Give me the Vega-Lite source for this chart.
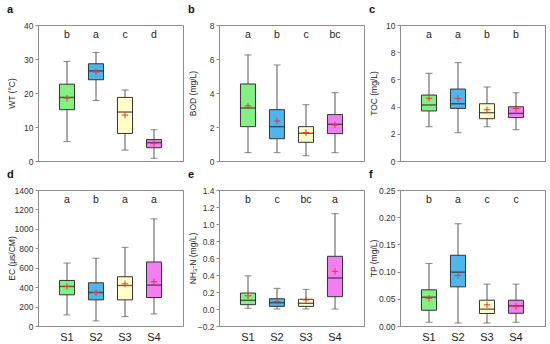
{
  "$schema": "https://vega.github.io/schema/vega-lite/v6.json",
  "padding": {"left": 6, "top": 3, "right": 2, "bottom": 2},
  "background": "white",
  "datasets": {
    "boxes": [
      {"panel": "a", "site": "S1", "min": 5.7, "q1": 15.1, "median": 18.7, "q3": 22.6, "max": 29.3, "mean": 18.5, "letter": "b"},
      {"panel": "a", "site": "S2", "min": 17.8, "q1": 23.9, "median": 26.5, "q3": 28.6, "max": 31.9, "mean": 26.2, "letter": "a"},
      {"panel": "a", "site": "S3", "min": 3.2, "q1": 8.1, "median": 14.4, "q3": 18.7, "max": 20.9, "mean": 13.5, "letter": "c"},
      {"panel": "a", "site": "S4", "min": 0.8, "q1": 3.9, "median": 5.4, "q3": 6.3, "max": 9.2, "mean": 5.2, "letter": "d"},
      {"panel": "b", "site": "S1", "min": 0.49, "q1": 2.02, "median": 3.12, "q3": 4.53, "max": 6.24, "mean": 3.24, "letter": "a"},
      {"panel": "b", "site": "S2", "min": 0.49, "q1": 1.31, "median": 2.02, "q3": 3.02, "max": 5.65, "mean": 2.35, "letter": "b"},
      {"panel": "b", "site": "S3", "min": 0.31, "q1": 1.1, "median": 1.63, "q3": 2.02, "max": 3.31, "mean": 1.67, "letter": "c"},
      {"panel": "b", "site": "S4", "min": 0.49, "q1": 1.61, "median": 2.16, "q3": 2.73, "max": 4.02, "mean": 2.12, "letter": "bc"},
      {"panel": "c", "site": "S1", "min": 2.52, "q1": 3.68, "median": 4.12, "q3": 4.85, "max": 6.45, "mean": 4.61, "letter": "a"},
      {"panel": "c", "site": "S2", "min": 2.08, "q1": 3.87, "median": 4.21, "q3": 5.29, "max": 7.23, "mean": 4.6, "letter": "a"},
      {"panel": "c", "site": "S3", "min": 2.52, "q1": 3.11, "median": 3.55, "q3": 4.21, "max": 5.44, "mean": 3.77, "letter": "b"},
      {"panel": "c", "site": "S4", "min": 2.3, "q1": 3.19, "median": 3.5, "q3": 3.99, "max": 5.02, "mean": 3.85, "letter": "b"},
      {"panel": "d", "site": "S1", "min": 114, "q1": 321, "median": 407, "q3": 469, "max": 648, "mean": 407, "letter": "a"},
      {"panel": "d", "site": "S2", "min": 52, "q1": 269, "median": 345, "q3": 445, "max": 697, "mean": 345, "letter": "b"},
      {"panel": "d", "site": "S3", "min": 97, "q1": 269, "median": 417, "q3": 507, "max": 810, "mean": 434, "letter": "a"},
      {"panel": "d", "site": "S4", "min": 124, "q1": 293, "median": 421, "q3": 659, "max": 1103, "mean": 455, "letter": "a"},
      {"panel": "e", "site": "S1", "min": 0.008, "q1": 0.051, "median": 0.102, "q3": 0.188, "max": 0.39, "mean": 0.155, "letter": "b"},
      {"panel": "e", "site": "S2", "min": 0.0, "q1": 0.031, "median": 0.074, "q3": 0.121, "max": 0.243, "mean": 0.09, "letter": "c"},
      {"panel": "e", "site": "S3", "min": 0.0, "q1": 0.031, "median": 0.067, "q3": 0.114, "max": 0.231, "mean": 0.106, "letter": "bc"},
      {"panel": "e", "site": "S4", "min": 0.0, "q1": 0.145, "median": 0.365, "q3": 0.62, "max": 1.122, "mean": 0.443, "letter": "a"},
      {"panel": "f", "site": "S1", "min": 0.0068, "q1": 0.029, "median": 0.053, "q3": 0.0665, "max": 0.115, "mean": 0.051, "letter": "b"},
      {"panel": "f", "site": "S2", "min": 0.0055, "q1": 0.072, "median": 0.099, "q3": 0.13, "max": 0.188, "mean": 0.093, "letter": "a"},
      {"panel": "f", "site": "S3", "min": 0.0055, "q1": 0.023, "median": 0.031, "q3": 0.0474, "max": 0.077, "mean": 0.0388, "letter": "c"},
      {"panel": "f", "site": "S4", "min": 0.0068, "q1": 0.0234, "median": 0.037, "q3": 0.0474, "max": 0.077, "mean": 0.0357, "letter": "c"}
    ]
  },
  "columns": 3,
  "bounds": "flush",
  "spacing": {"row": 29, "column": 36},
  "concat": [
    {
      "width": 145, "height": 136,
      "title": {"text": "a"},
      "data": {"name": "boxes"},
      "transform": [{"filter": "datum.panel === 'a'"}],
      "encoding": {"x": {"field": "site", "type": "nominal", "scale": {"paddingInner": 0, "paddingOuter": 0.5}, "axis": {"labels": false, "ticks": false, "title": null}}},
      "layer": [
        {"mark": {"type": "rule", "color": "#555", "strokeWidth": 1}, "encoding": {"y": {"field": "min", "type": "quantitative", "scale": {"domain": [0, 40], "nice": false, "zero": false}, "axis": {"values": [0, 10, 20, 30, 40], "tickCount": 50, "format": "d", "labelOverlap": false, "title": "WT (°C)"}}, "y2": {"field": "max"}}},
        {"mark": {"type": "tick", "size": 7, "thickness": 1, "color": "#555"}, "encoding": {"y": {"field": "min", "type": "quantitative"}}},
        {"mark": {"type": "tick", "size": 7, "thickness": 1, "color": "#555"}, "encoding": {"y": {"field": "max", "type": "quantitative"}}},
        {"mark": {"type": "bar", "width": {"band": 0.52}, "stroke": "#333", "strokeWidth": 1}, "encoding": {"y": {"field": "q1", "type": "quantitative"}, "y2": {"field": "q3"}, "fill": {"field": "site", "type": "nominal", "scale": {"domain": ["S1", "S2", "S3", "S4"], "range": ["#84f084", "#4fb5ec", "#ffffc8", "#f27ff2"]}, "legend": null}}},
        {"mark": {"type": "tick", "size": 15, "thickness": 1.4, "color": "#222"}, "encoding": {"y": {"field": "median", "type": "quantitative"}}},
        {"mark": {"type": "point", "shape": "M-1,0L1,0M0,-1L0,1", "size": 42, "filled": false, "stroke": "#e8343b", "strokeWidth": 1, "opacity": 1}, "encoding": {"y": {"field": "mean", "type": "quantitative"}}},
        {"mark": {"type": "text", "fontSize": 10.5, "color": "#222", "baseline": "middle"}, "encoding": {"y": {"datum": 37.2, "type": "quantitative"}, "text": {"field": "letter"}}}
      ]
    },
    {
      "width": 145, "height": 136,
      "title": {"text": "b"},
      "data": {"name": "boxes"},
      "transform": [{"filter": "datum.panel === 'b'"}],
      "encoding": {"x": {"field": "site", "type": "nominal", "scale": {"paddingInner": 0, "paddingOuter": 0.5}, "axis": {"labels": false, "ticks": false, "title": null}}},
      "layer": [
        {"mark": {"type": "rule", "color": "#555", "strokeWidth": 1}, "encoding": {"y": {"field": "min", "type": "quantitative", "scale": {"domain": [0, 8], "nice": false, "zero": false}, "axis": {"values": [0, 2, 4, 6, 8], "tickCount": 50, "format": "d", "labelOverlap": false, "title": "BOD (mg/L)"}}, "y2": {"field": "max"}}},
        {"mark": {"type": "tick", "size": 7, "thickness": 1, "color": "#555"}, "encoding": {"y": {"field": "min", "type": "quantitative"}}},
        {"mark": {"type": "tick", "size": 7, "thickness": 1, "color": "#555"}, "encoding": {"y": {"field": "max", "type": "quantitative"}}},
        {"mark": {"type": "bar", "width": {"band": 0.52}, "stroke": "#333", "strokeWidth": 1}, "encoding": {"y": {"field": "q1", "type": "quantitative"}, "y2": {"field": "q3"}, "fill": {"field": "site", "type": "nominal", "legend": null}}},
        {"mark": {"type": "tick", "size": 15, "thickness": 1.4, "color": "#222"}, "encoding": {"y": {"field": "median", "type": "quantitative"}}},
        {"mark": {"type": "point", "shape": "M-1,0L1,0M0,-1L0,1", "size": 42, "filled": false, "stroke": "#e8343b", "strokeWidth": 1, "opacity": 1}, "encoding": {"y": {"field": "mean", "type": "quantitative"}}},
        {"mark": {"type": "text", "fontSize": 10.5, "color": "#222", "baseline": "middle"}, "encoding": {"y": {"datum": 7.44, "type": "quantitative"}, "text": {"field": "letter"}}}
      ]
    },
    {
      "width": 145, "height": 136,
      "title": {"text": "c"},
      "data": {"name": "boxes"},
      "transform": [{"filter": "datum.panel === 'c'"}],
      "encoding": {"x": {"field": "site", "type": "nominal", "scale": {"paddingInner": 0, "paddingOuter": 0.5}, "axis": {"labels": false, "ticks": false, "title": null}}},
      "layer": [
        {"mark": {"type": "rule", "color": "#555", "strokeWidth": 1}, "encoding": {"y": {"field": "min", "type": "quantitative", "scale": {"domain": [0, 10], "nice": false, "zero": false}, "axis": {"values": [0, 2, 4, 6, 8, 10], "tickCount": 50, "format": "d", "labelOverlap": false, "title": "TOC (mg/L)"}}, "y2": {"field": "max"}}},
        {"mark": {"type": "tick", "size": 7, "thickness": 1, "color": "#555"}, "encoding": {"y": {"field": "min", "type": "quantitative"}}},
        {"mark": {"type": "tick", "size": 7, "thickness": 1, "color": "#555"}, "encoding": {"y": {"field": "max", "type": "quantitative"}}},
        {"mark": {"type": "bar", "width": {"band": 0.52}, "stroke": "#333", "strokeWidth": 1}, "encoding": {"y": {"field": "q1", "type": "quantitative"}, "y2": {"field": "q3"}, "fill": {"field": "site", "type": "nominal", "legend": null}}},
        {"mark": {"type": "tick", "size": 15, "thickness": 1.4, "color": "#222"}, "encoding": {"y": {"field": "median", "type": "quantitative"}}},
        {"mark": {"type": "point", "shape": "M-1,0L1,0M0,-1L0,1", "size": 42, "filled": false, "stroke": "#e8343b", "strokeWidth": 1, "opacity": 1}, "encoding": {"y": {"field": "mean", "type": "quantitative"}}},
        {"mark": {"type": "text", "fontSize": 10.5, "color": "#222", "baseline": "middle"}, "encoding": {"y": {"datum": 9.3, "type": "quantitative"}, "text": {"field": "letter"}}}
      ]
    },
    {
      "width": 145, "height": 136,
      "title": {"text": "d"},
      "data": {"name": "boxes"},
      "transform": [{"filter": "datum.panel === 'd'"}],
      "encoding": {"x": {"field": "site", "type": "nominal", "scale": {"paddingInner": 0, "paddingOuter": 0.5}, "axis": {"title": null}}},
      "layer": [
        {"mark": {"type": "rule", "color": "#555", "strokeWidth": 1}, "encoding": {"y": {"field": "min", "type": "quantitative", "scale": {"domain": [0, 1400], "nice": false, "zero": false}, "axis": {"values": [0, 200, 400, 600, 800, 1000, 1200, 1400], "tickCount": 50, "format": "d", "labelOverlap": false, "title": "EC (μs/CM)"}}, "y2": {"field": "max"}}},
        {"mark": {"type": "tick", "size": 7, "thickness": 1, "color": "#555"}, "encoding": {"y": {"field": "min", "type": "quantitative"}}},
        {"mark": {"type": "tick", "size": 7, "thickness": 1, "color": "#555"}, "encoding": {"y": {"field": "max", "type": "quantitative"}}},
        {"mark": {"type": "bar", "width": {"band": 0.52}, "stroke": "#333", "strokeWidth": 1}, "encoding": {"y": {"field": "q1", "type": "quantitative"}, "y2": {"field": "q3"}, "fill": {"field": "site", "type": "nominal", "legend": null}}},
        {"mark": {"type": "tick", "size": 15, "thickness": 1.4, "color": "#222"}, "encoding": {"y": {"field": "median", "type": "quantitative"}}},
        {"mark": {"type": "point", "shape": "M-1,0L1,0M0,-1L0,1", "size": 42, "filled": false, "stroke": "#e8343b", "strokeWidth": 1, "opacity": 1}, "encoding": {"y": {"field": "mean", "type": "quantitative"}}},
        {"mark": {"type": "text", "fontSize": 10.5, "color": "#222", "baseline": "middle"}, "encoding": {"y": {"datum": 1302, "type": "quantitative"}, "text": {"field": "letter"}}}
      ]
    },
    {
      "width": 145, "height": 136,
      "title": {"text": "e"},
      "data": {"name": "boxes"},
      "transform": [{"filter": "datum.panel === 'e'"}],
      "encoding": {"x": {"field": "site", "type": "nominal", "scale": {"paddingInner": 0, "paddingOuter": 0.5}, "axis": {"title": null}}},
      "layer": [
        {"mark": {"type": "rule", "color": "#555", "strokeWidth": 1}, "encoding": {"y": {"field": "min", "type": "quantitative", "scale": {"domain": [-0.2, 1.4], "nice": false, "zero": false}, "axis": {"values": [-0.2, 0, 0.2, 0.4, 0.6, 0.8, 1.0, 1.2, 1.4], "tickCount": 50, "format": ".1f", "labelOverlap": false, "title": "NH₃-N (mg/L)"}}, "y2": {"field": "max"}}},
        {"mark": {"type": "tick", "size": 7, "thickness": 1, "color": "#555"}, "encoding": {"y": {"field": "min", "type": "quantitative"}}},
        {"mark": {"type": "tick", "size": 7, "thickness": 1, "color": "#555"}, "encoding": {"y": {"field": "max", "type": "quantitative"}}},
        {"mark": {"type": "bar", "width": {"band": 0.52}, "stroke": "#333", "strokeWidth": 1}, "encoding": {"y": {"field": "q1", "type": "quantitative"}, "y2": {"field": "q3"}, "fill": {"field": "site", "type": "nominal", "legend": null}}},
        {"mark": {"type": "tick", "size": 15, "thickness": 1.4, "color": "#222"}, "encoding": {"y": {"field": "median", "type": "quantitative"}}},
        {"mark": {"type": "point", "shape": "M-1,0L1,0M0,-1L0,1", "size": 42, "filled": false, "stroke": "#e8343b", "strokeWidth": 1, "opacity": 1}, "encoding": {"y": {"field": "mean", "type": "quantitative"}}},
        {"mark": {"type": "text", "fontSize": 10.5, "color": "#222", "baseline": "middle"}, "encoding": {"y": {"datum": 1.288, "type": "quantitative"}, "text": {"field": "letter"}}}
      ]
    },
    {
      "width": 145, "height": 136,
      "title": {"text": "f"},
      "data": {"name": "boxes"},
      "transform": [{"filter": "datum.panel === 'f'"}],
      "encoding": {"x": {"field": "site", "type": "nominal", "scale": {"paddingInner": 0, "paddingOuter": 0.5}, "axis": {"title": null}}},
      "layer": [
        {"mark": {"type": "rule", "color": "#555", "strokeWidth": 1}, "encoding": {"y": {"field": "min", "type": "quantitative", "scale": {"domain": [0, 0.25], "nice": false, "zero": false}, "axis": {"values": [0, 0.05, 0.1, 0.15, 0.2, 0.25], "tickCount": 50, "format": ".2f", "labelOverlap": false, "title": "TP (mg/L)"}}, "y2": {"field": "max"}}},
        {"mark": {"type": "tick", "size": 7, "thickness": 1, "color": "#555"}, "encoding": {"y": {"field": "min", "type": "quantitative"}}},
        {"mark": {"type": "tick", "size": 7, "thickness": 1, "color": "#555"}, "encoding": {"y": {"field": "max", "type": "quantitative"}}},
        {"mark": {"type": "bar", "width": {"band": 0.52}, "stroke": "#333", "strokeWidth": 1}, "encoding": {"y": {"field": "q1", "type": "quantitative"}, "y2": {"field": "q3"}, "fill": {"field": "site", "type": "nominal", "legend": null}}},
        {"mark": {"type": "tick", "size": 15, "thickness": 1.4, "color": "#222"}, "encoding": {"y": {"field": "median", "type": "quantitative"}}},
        {"mark": {"type": "point", "shape": "M-1,0L1,0M0,-1L0,1", "size": 42, "filled": false, "stroke": "#e8343b", "strokeWidth": 1, "opacity": 1}, "encoding": {"y": {"field": "mean", "type": "quantitative"}}},
        {"mark": {"type": "text", "fontSize": 10.5, "color": "#222", "baseline": "middle"}, "encoding": {"y": {"datum": 0.2325, "type": "quantitative"}, "text": {"field": "letter"}}}
      ]
    }
  ],
  "config": {
    "font": "Liberation Sans",
    "view": {"stroke": "#8c8c8c", "strokeWidth": 1},
    "axis": {"domainColor": "#8c8c8c", "tickColor": "#8c8c8c", "grid": false, "labelFontSize": 8.5, "labelColor": "#333", "titleFontSize": 8.5, "titleFontWeight": "normal", "titleColor": "#222", "tickSize": 3, "labelPadding": 2, "labelOverlap": false},
    "axisY": {"minExtent": 20, "maxExtent": 20, "titlePadding": 2, "labelOverlap": false, "tickCount": 50},
    "axisX": {"labelFontSize": 11, "labelColor": "#222", "labelPadding": 5, "ticks": false, "labelAngle": 0},
    "title": {"anchor": "start", "fontSize": 11, "fontWeight": "bold", "color": "#111", "offset": 6, "frame": "bounds"}
  }
}
